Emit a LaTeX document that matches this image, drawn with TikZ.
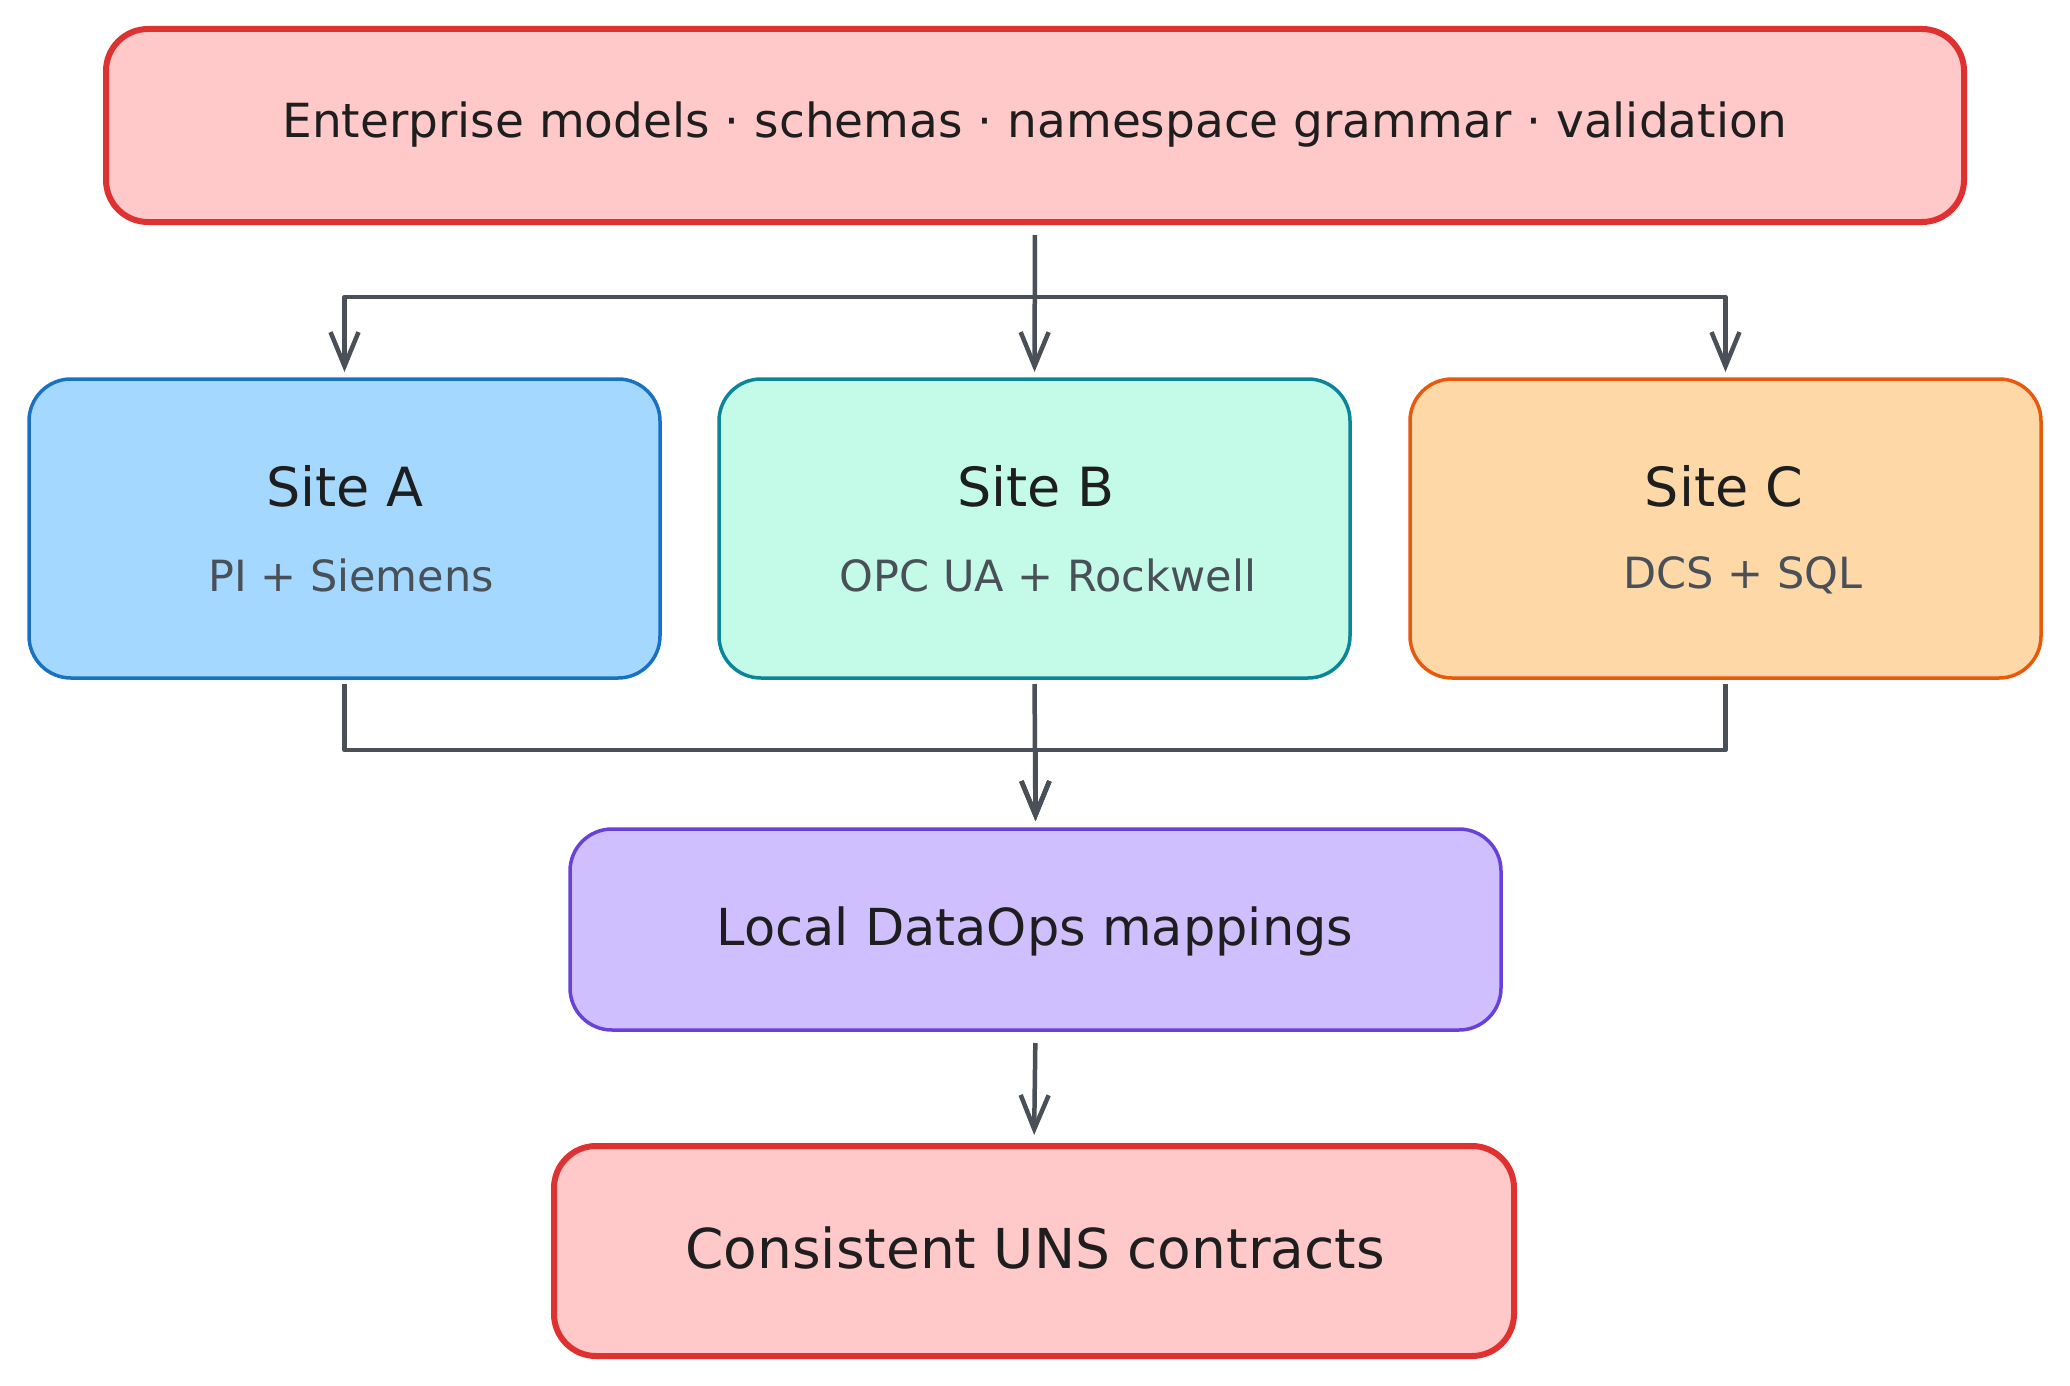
\documentclass[tikz,border=0pt]{standalone}
\usepackage{fontspec}
\setmainfont{DejaVu Sans}
\usetikzlibrary{arrows.meta}
\definecolor{redfill}{HTML}{FFC9C9}
\definecolor{redline}{HTML}{E03131}
\definecolor{bluefill}{HTML}{A5D8FF}
\definecolor{blueline}{HTML}{1971C2}
\definecolor{greenfill}{HTML}{C3FAE8}
\definecolor{greenline}{HTML}{0C8599}
\definecolor{orangefill}{HTML}{FFD8A8}
\definecolor{orangeline}{HTML}{E8590C}
\definecolor{purplefill}{HTML}{D0BFFF}
\definecolor{purpleline}{HTML}{6741D9}
\definecolor{arrowgray}{HTML}{495057}
\definecolor{ink}{HTML}{1E1E1E}
\tikzset{
  box/.style={rectangle, rounded corners=42pt, inner sep=0pt, outer sep=0pt, line width=3.5pt},
  thickbox/.style={box, line width=6pt},
  maintext/.style={text=ink, font=\fontsize{50}{56}\selectfont},
  titletext/.style={text=ink, font=\fontsize{54}{60}\selectfont},
  subtext/.style={text=arrowgray, font=\fontsize{43}{49}\selectfont},
  arr/.style={draw=arrowgray, line width=4.5pt, line join=round,
    -{Straight Barb[length=34pt,width=28pt]}},
}
\begin{document}
\begin{tikzpicture}[x=1pt,y=-1pt]
\useasboundingbox[fill=white] (0,0) rectangle (2070,1386);
% boxes
\node[thickbox, fill=redfill, draw=redline, minimum width=1858pt, minimum height=193pt] (top) at (1035,125.5) {};
\node[maintext, font=\fontsize{47}{53}\selectfont] (toptext) at (1035,125) {Enterprise models · schemas · namespace grammar · validation};

\node[box, fill=bluefill, draw=blueline, minimum width=631pt, minimum height=299pt] (siteA) at (344.5,528.5) {};
\node[titletext] (siteAt) at (345,486) {Site A};
\node[subtext] (siteAs) at (351,575) {PI + Siemens};

\node[box, fill=greenfill, draw=greenline, minimum width=631pt, minimum height=299pt] (siteB) at (1034.5,528.5) {};
\node[titletext] (siteBt) at (1036,486) {Site B};
\node[subtext] (siteBs) at (1048,575) {OPC UA + Rockwell};

\node[box, fill=orangefill, draw=orangeline, minimum width=631pt, minimum height=299pt] (siteC) at (1725.5,528.5) {};
\node[titletext] (siteCt) at (1724,486) {Site C};
\node[subtext] (siteCs) at (1743,575) {DCS + SQL};

\node[box, fill=purplefill, draw=purpleline, minimum width=931pt, minimum height=201pt] (dataops) at (1035.5,929.5) {};
\node[maintext, font=\fontsize{51}{57}\selectfont] (dataopstext) at (1035,931) {Local DataOps mappings};

\node[thickbox, fill=redfill, draw=redline, minimum width=960pt, minimum height=210pt] (uns) at (1034,1251) {};
\node[maintext, font=\fontsize{55}{61}\selectfont] (unstext) at (1035,1248) {Consistent UNS contracts};

% connectors top -> sites
\draw[arr, shorten <=13pt, shorten >=7pt] (top.south) -- (siteB.north);
\draw[arr, shorten <=13pt, shorten >=7pt] (top.south) -- ++(0,75) -| (siteA.north);
\draw[arr, shorten <=13pt, shorten >=7pt] (top.south) -- ++(0,75) -| (siteC.north);
% sites -> dataops
\draw[arr, shorten <=6pt, shorten >=8pt] (siteB.south) -- (dataops.north);
\draw[arr, shorten <=6pt, shorten >=8pt] (siteA.south) -- ++(0,72) -| (dataops.north);
\draw[arr, shorten <=6pt, shorten >=8pt] (siteC.south) -- ++(0,72) -| (dataops.north);
% dataops -> uns
\draw[arr, shorten <=13pt, shorten >=11pt] (dataops.south) -- (uns.north);
\end{tikzpicture}
\end{document}
